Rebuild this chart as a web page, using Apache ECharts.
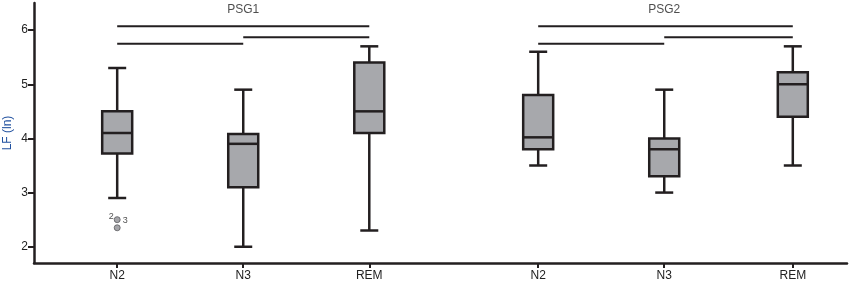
<!DOCTYPE html>
<html>
<head>
<meta charset="utf-8">
<script src="https://cdn.jsdelivr.net/npm/echarts@6/dist/echarts.min.js"></script>
<style>
  html, body { margin: 0; padding: 0; background: #fff; }
  #chart { width: 850px; height: 285px; }
</style>
</head>
<body>
<div id="chart"></div>
<script>
  // categories and where they sit on the x scale (two groups, wider gap between)
  var stages = ['N2', 'N3', 'REM', 'N2', 'N3', 'REM'];
  var stagePos = [1, 2, 3, 4.34, 5.34, 6.36];
  var groupNames = ['PSG1', 'PSG2'];
  var groupCenters = [2, 5.34];

  // box values
  var whiskerLow = [2.9, 2.0, 2.3, 3.5, 3.0, 3.5];
  var q1 = [3.72, 3.1, 4.1, 3.8, 3.3, 4.4];
  var median = [4.1, 3.9, 4.5, 4.02, 3.8, 5.0];
  var q3 = [4.5, 4.08, 5.4, 4.8, 4.0, 5.22];
  var whiskerHigh = [5.3, 4.9, 5.7, 5.6, 4.9, 5.7];

  // outliers of PSG1 N2
  var outliers = [[1, 2.5, '2'], [1, 2.35, '3']];

  // significance bars [from, to, y]
  var brackets = [
    [1, 3, 6.07], [2, 3, 5.87], [1, 2, 5.75],
    [4.34, 6.36, 6.07], [5.34, 6.36, 5.87], [4.34, 5.34, 5.75]
  ];

  var yTicks = [2, 3, 4, 5, 6];

  var ink = '#231f20';
  var chart = echarts.init(document.getElementById('chart'));

  var boxData = stagePos.map(function (x, i) {
    return [x, whiskerLow[i], q1[i], median[i], q3[i], whiskerHigh[i]];
  });

  var series = [];

  series.push({
    type: 'custom',
    data: boxData,
    encode: { x: 0, y: [1, 2, 3, 4, 5] },
    renderItem: function (params, api) {
      var x = api.value(0);
      var pLo = api.coord([x, api.value(1)]);
      var pQ1 = api.coord([x, api.value(2)]);
      var pMed = api.coord([x, api.value(3)]);
      var pQ3 = api.coord([x, api.value(4)]);
      var pHi = api.coord([x, api.value(5)]);
      var half = 15, cap = 9;
      var st = { stroke: ink, lineWidth: 2.5, fill: null };
      return {
        type: 'group',
        children: [
          { type: 'line', shape: { x1: pHi[0], y1: pHi[1], x2: pQ3[0], y2: pQ3[1] }, style: st },
          { type: 'line', shape: { x1: pLo[0], y1: pLo[1], x2: pQ1[0], y2: pQ1[1] }, style: st },
          { type: 'line', shape: { x1: pHi[0] - cap, y1: pHi[1], x2: pHi[0] + cap, y2: pHi[1] }, style: st },
          { type: 'line', shape: { x1: pLo[0] - cap, y1: pLo[1], x2: pLo[0] + cap, y2: pLo[1] }, style: st },
          { type: 'rect', shape: { x: pQ3[0] - half, y: pQ3[1], width: half * 2, height: pQ1[1] - pQ3[1] },
            style: { fill: '#a7a8ac', stroke: ink, lineWidth: 2.5 } },
          { type: 'line', shape: { x1: pMed[0] - half, y1: pMed[1], x2: pMed[0] + half, y2: pMed[1] }, style: st }
        ]
      };
    },
    z: 3
  });

  brackets.forEach(function (b) {
    series.push({
      type: 'line',
      data: [[b[0], b[2]], [b[1], b[2]]],
      symbol: 'none',
      lineStyle: { color: ink, width: 2 },
      silent: true
    });
  });

  series.push({
    type: 'scatter',
    data: outliers.map(function (o, i) {
      return {
        value: [o[0], o[1]],
        label: i === 0
          ? { position: 'left', distance: 0, offset: [0, -3] }
          : { position: 'right', distance: 2, offset: [0, -7] }
      };
    }),
    symbolSize: 6,
    itemStyle: { color: '#8e8f93', borderColor: '#5a5a5e', borderWidth: 1 },
    label: {
      show: true,
      fontSize: 9,
      color: '#222',
      fontFamily: 'Liberation Sans',
      formatter: function (p) { return outliers[p.dataIndex][2]; }
    },
    z: 4
  });

  series.push({
    type: 'scatter',
    data: groupCenters.map(function (c) { return [c, 6.37]; }),
    symbolSize: 0,
    label: {
      show: true,
      position: 'inside',
      fontSize: 12,
      color: '#222',
      fontFamily: 'Liberation Sans',
      formatter: function (p) { return groupNames[p.dataIndex]; }
    },
    silent: true
  });

  chart.setOption({
    animation: false,
    grid: { left: 34, right: 3, top: 3, bottom: 22, outerBoundsMode: 'none', containLabel: false },
    xAxis: {
      type: 'value',
      min: 0.34,
      max: 6.79,
      splitLine: { show: false },
      axisLine: { lineStyle: { color: ink, width: 2.5 } },
      axisTick: { show: true, length: 5, customValues: stagePos, lineStyle: { color: ink, width: 2 } },
      axisLabel: {
        customValues: stagePos,
        fontSize: 12,
        color: '#222',
        fontFamily: 'Liberation Sans',
        margin: 7,
        formatter: function (v) {
          for (var i = 0; i < stagePos.length; i++) {
            if (Math.abs(stagePos[i] - v) < 0.01) return stages[i];
          }
          return '';
        }
      }
    },
    yAxis: {
      type: 'value',
      min: 1.7,
      max: 6.5,
      name: 'LF (ln)',
      nameLocation: 'middle',
      nameGap: 20,
      nameMoveOverlap: false,
      nameTextStyle: { color: '#1f4f9e', fontSize: 12, fontFamily: 'Liberation Sans' },
      splitLine: { show: false },
      axisLine: { show: true, lineStyle: { color: ink, width: 2.5 } },
      axisTick: { show: true, length: 6, customValues: yTicks, lineStyle: { color: ink, width: 2 } },
      axisLabel: {
        customValues: yTicks,
        fontSize: 12,
        color: '#222',
        fontFamily: 'Liberation Sans',
        margin: 6
      }
    },
    series: series
  });
</script>
</body>
</html>
